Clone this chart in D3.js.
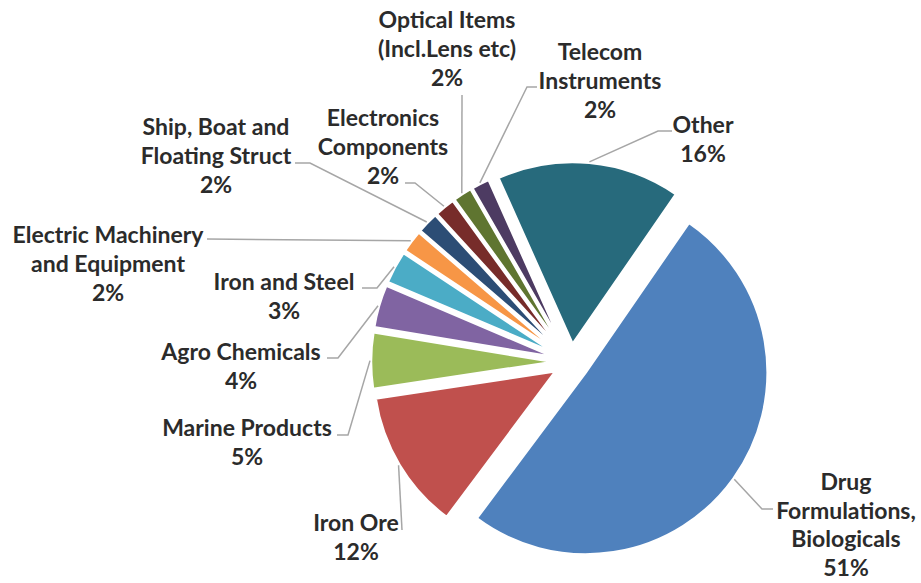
<!DOCTYPE html>
<html>
<head>
<meta charset="utf-8">
<script src="https://cdn.jsdelivr.net/npm/d3@7"></script>
<style>
  html, body { margin: 0; padding: 0; background: #ffffff; }
  svg { display: block; }
</style>
</head>
<body>
<svg id="chart" width="921" height="583"></svg>
<script>
// ---- data ----
const categories = [
  "Drug Formulations, Biologicals",
  "Iron Ore",
  "Marine Products",
  "Agro Chemicals",
  "Iron and Steel",
  "Electric Machinery and Equipment",
  "Ship, Boat and Floating Struct",
  "Electronics Components",
  "Optical Items (Incl.Lens etc)",
  "Telecom Instruments",
  "Other"
];
const values = [50.6, 12.4, 5.0, 3.8, 2.9, 2.0, 1.9, 1.8, 1.7, 1.6, 16.3];
const labelLines = [
  ["Drug", "Formulations,", "Biologicals"],
  ["Iron Ore"],
  ["Marine Products"],
  ["Agro Chemicals"],
  ["Iron and Steel"],
  ["Electric Machinery", "and Equipment"],
  ["Ship, Boat and", "Floating Struct"],
  ["Electronics", "Components"],
  ["Optical Items", "(Incl.Lens etc)"],
  ["Telecom", "Instruments"],
  ["Other"]
];
const colors = ["#4F81BD", "#C0504D", "#9BBB59", "#8064A2", "#4BACC6", "#F79646",
                "#2C4D75", "#772C2A", "#5F7530", "#4D3B62", "#276A7C"];

// ---- layout (positions of labels / leader elbows) ----
const center = [571, 362];
const radius = 182;
const explode = 18;
const startDeg = 34.6;
const lineH = 29;
// label anchor: [centerX, firstLineCenterY]; leader: [endX, endY, elbowX, elbowY]
const labelPos = [
  [846, 482], [356, 523], [247, 428], [241, 352], [284, 282], [108, 235],
  [216, 127], [383, 118], [447, 20], [600, 52], [703, 125]
];
const lineHs = [28.5, 29, 29, 29, 29, 29, 29, 29, 29, 29, 29];
const leaderPts = [
  [773, 509, 762, 509], [402, 530, 402, 530], [337, 435, 348, 435],
  [327, 358, 338, 358], [362, 288, 377, 288], [207, 239, 207, 239],
  [295, 163, 310, 163], [405, 183, 415, 183], [462, 95, 462, 95],
  [537, 87, 527, 87], [672, 131, 658, 131]
];

const svg = d3.select("#chart");
const total = d3.sum(values);
const rad = startDeg * Math.PI / 180;
const pie = d3.pie().sort(null).value(d => d).startAngle(rad).endAngle(rad + 2 * Math.PI);
const arcs = pie(values);
const arc = d3.arc().innerRadius(0).outerRadius(radius);

const g = svg.append("g").attr("transform", `translate(${center[0]},${center[1]})`);

function offsetOf(a, dist) {
  const m = (a.startAngle + a.endAngle) / 2;
  return [Math.sin(m) * dist, -Math.cos(m) * dist];
}

g.selectAll("path.slice")
  .data(arcs)
  .enter().append("path")
  .attr("class", "slice")
  .attr("d", arc)
  .attr("fill", (d, i) => colors[i])
  .attr("stroke", "#ffffff")
  .attr("stroke-width", 2.5)
  .attr("stroke-linejoin", "round")
  .attr("transform", d => {
    const o = offsetOf(d, explode);
    return `translate(${o[0]},${o[1]})`;
  });

// leader lines
const line = d3.line();
svg.selectAll("path.leader")
  .data(arcs)
  .enter().append("path")
  .attr("class", "leader")
  .attr("fill", "none")
  .attr("stroke", "#a6a6a6")
  .attr("stroke-width", 1.5)
  .attr("d", (d, i) => {
    const p = offsetOf(d, explode + radius + 1);
    const start = [center[0] + p[0], center[1] + p[1]];
    const lp = leaderPts[i];
    return line([start, [lp[2], lp[3]], [lp[0], lp[1]]]);
  });

// labels
const labels = svg.selectAll("text.lbl")
  .data(arcs)
  .enter().append("text")
  .attr("class", "lbl")
  .attr("text-anchor", "middle")
  .attr("font-family", "Lato, 'Open Sans', sans-serif")
  .attr("font-weight", 700)
  .attr("font-size", 23)
  .attr("fill", "#2b2b2b");

labels.each(function(d, i) {
  const t = d3.select(this);
  const lines = labelLines[i].concat([Math.round(d.data / total * 100) + "%"]);
  lines.forEach((s, k) => {
    t.append("tspan")
      .attr("x", labelPos[i][0])
      .attr("y", labelPos[i][1] + k * lineHs[i])
      .attr("dy", "0.36em")
      .text(s);
  });
});
</script>
</body>
</html>
